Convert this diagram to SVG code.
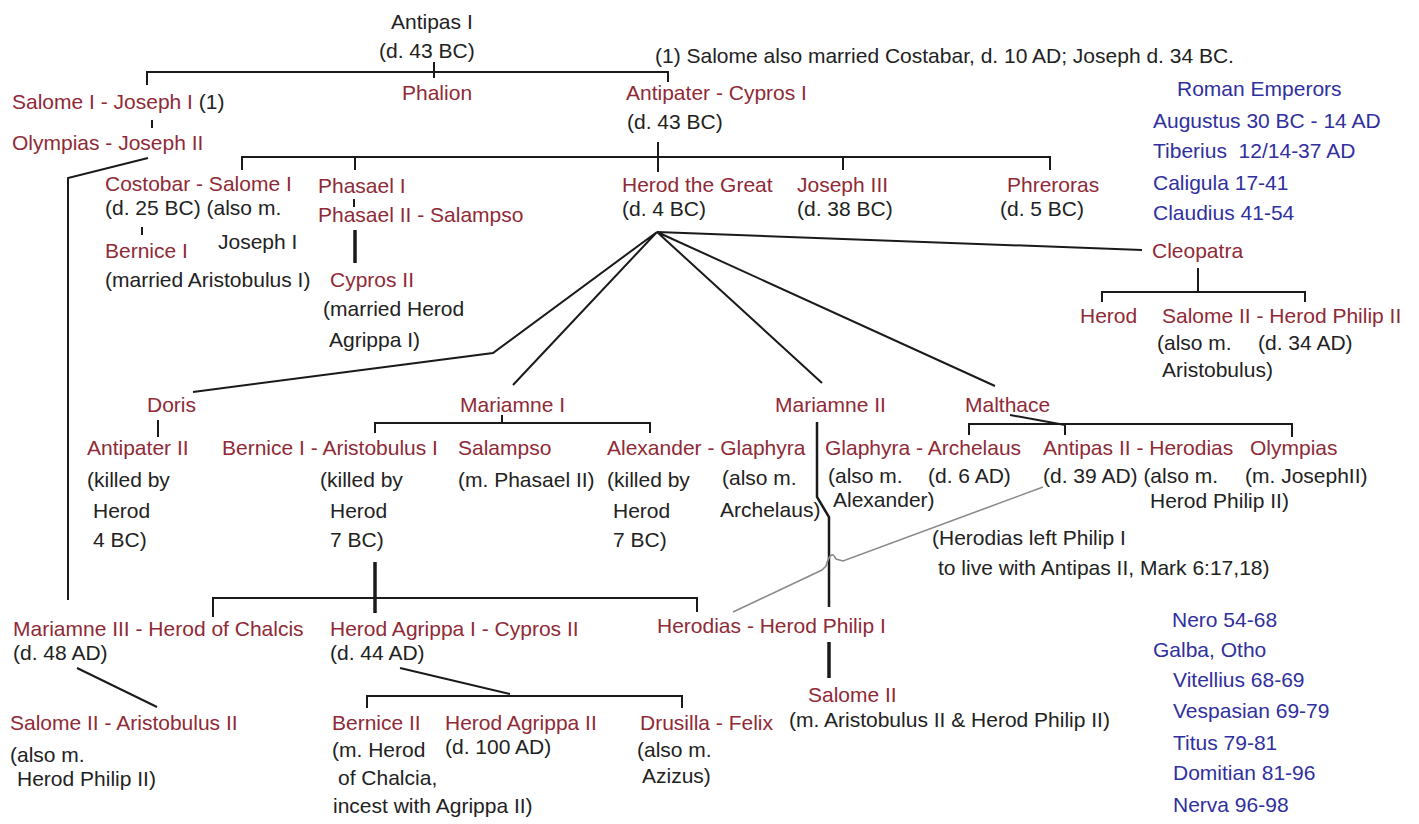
<svg xmlns="http://www.w3.org/2000/svg" width="1419" height="824" viewBox="0 0 1419 824">
<style>
text{font-family:"Liberation Sans",Arial,sans-serif;font-size:21px}
.r{fill:#8f2a36}.k{fill:#222}.b{fill:#30309e}
.ln{stroke:#1a1a1a;stroke-width:2;fill:none}
.th{stroke-width:3.5}
.gr{stroke:#8a8a8a;stroke-width:1.6;fill:none}
</style>
<rect width="1419" height="824" fill="#fff"/>
<g id="connectors">
<path class="ln" d="M147,85 V72 H668 V82 M434,62 V78"/>
<path class="ln" d="M152,120 V128"/>
<path class="ln" d="M148,158 L68,178 V600"/>
<path class="ln" d="M242,170 V157 H1050 V170 M355,157 V170 M658,142 V172 M843,157 V170"/>
<path class="ln" d="M142,227 V235"/>
<path class="ln" d="M354,199 V207"/>
<path class="ln th" d="M355,230 V263"/>
<path class="ln" d="M657,232 L1142,250 M657,232 L493,353 L193,392 M657,232 L513,385 M657,232 L822,383 M657,232 L995,386"/>
<path class="ln" d="M1198,268 V292 M1102,302 V292 H1305 V302"/>
<path class="ln" d="M158,420 V437"/>
<path class="ln" d="M375,433 V423 H650 V433 M502,415 V423"/>
<path class="ln" style="stroke-width:2.5" d="M817,422 V497 L829,517 V607"/>
<path class="ln" d="M1010,415 L1065,425 M969,435 V424 H1292 V437 M1065,424 V435"/>
<path class="gr" d="M1043,487 L843,561 L836,559 Q831,548 826,566 L822,570 L733,612"/>
<path class="ln" d="M213,617 V598 H697 V612"/>
<path class="ln th" d="M375,562 V613"/>
<path class="ln" d="M77,668 L157,707"/>
<path class="ln" d="M400,668 L510,694 M367,708 V696 H682 V708"/>
<path class="ln th" d="M829,642 V678"/>
</g>
<g id="antipas1"><text x="391" y="29" class="k">Antipas I</text><text x="379" y="58" class="k">(d. 43 BC)</text></g>
<g id="note1"><text x="655" y="63" class="k">(1) Salome also married Costabar, d. 10 AD; Joseph d. 34 BC.</text></g>
<g id="salome1"><text x="12" y="109"><tspan class="r">Salome I - Joseph I</tspan><tspan class="k"> (1)</tspan></text></g>
<g id="olympias-joseph2"><text x="12" y="150" class="r">Olympias - Joseph II</text></g>
<g id="phalion"><text x="402" y="100" class="r">Phalion</text></g>
<g id="antipater"><text x="626" y="100" class="r">Antipater - Cypros I</text><text x="627" y="129" class="k">(d. 43 BC)</text></g>
<g id="costobar"><text x="105" y="191" class="r">Costobar - Salome I</text><text x="105" y="215" class="k">(d. 25 BC) (also m.</text><text x="218" y="249" class="k">Joseph I</text></g>
<g id="bernice1a"><text x="105" y="258" class="r">Bernice I</text><text x="105" y="287" class="k">(married Aristobulus I)</text></g>
<g id="phasael"><text x="318" y="193" class="r">Phasael I</text><text x="318" y="222" class="r">Phasael II - Salampso</text></g>
<g id="cypros2"><text x="330" y="287" class="r">Cypros II</text><text x="323" y="316" class="k">(married Herod</text><text x="329" y="347" class="k">Agrippa I)</text></g>
<g id="herod-great"><text x="622" y="192" class="r">Herod the Great</text><text x="622" y="216" class="k">(d. 4 BC)</text></g>
<g id="joseph3"><text x="797" y="192" class="r">Joseph III</text><text x="797" y="216" class="k">(d. 38 BC)</text></g>
<g id="phreroras"><text x="1007" y="192" class="r">Phreroras</text><text x="1000" y="216" class="k">(d. 5 BC)</text></g>
<g id="emperors1">
<text x="1177" y="96" class="b">Roman Emperors</text>
<text x="1153" y="128" class="b">Augustus 30 BC - 14 AD</text>
<text x="1153" y="158" class="b" xml:space="preserve">Tiberius  12/14-37 AD</text>
<text x="1153" y="190" class="b">Caligula 17-41</text>
<text x="1153" y="220" class="b">Claudius 41-54</text>
</g>
<g id="cleopatra"><text x="1152" y="258" class="r">Cleopatra</text></g>
<g id="herod-c"><text x="1080" y="323" class="r">Herod</text></g>
<g id="salome2-philip2"><text x="1162" y="323" class="r">Salome II - Herod Philip II</text><text x="1157" y="350" class="k">(also m.</text><text x="1258" y="350" class="k">(d. 34 AD)</text><text x="1162" y="377" class="k">Aristobulus)</text></g>
<g id="doris"><text x="147" y="412" class="r">Doris</text></g>
<g id="antipater2"><text x="87" y="455" class="r">Antipater II</text><text x="87" y="487" class="k">(killed by</text><text x="93" y="518" class="k">Herod</text><text x="93" y="547" class="k">4 BC)</text></g>
<g id="mariamne1"><text x="460" y="412" class="r">Mariamne I</text></g>
<g id="aristobulus1"><text x="222" y="455" class="r">Bernice I - Aristobulus I</text><text x="320" y="487" class="k">(killed by</text><text x="330" y="518" class="k">Herod</text><text x="330" y="547" class="k">7 BC)</text></g>
<g id="salampso"><text x="458" y="455" class="r">Salampso</text><text x="458" y="487" class="k">(m. Phasael II)</text></g>
<g id="alexander"><text x="607" y="455" class="r">Alexander - Glaphyra</text><text x="607" y="487" class="k">(killed by</text><text x="613" y="518" class="k">Herod</text><text x="613" y="547" class="k">7 BC)</text><text x="722" y="485" class="k">(also m.</text><text x="720" y="517" class="k">Archelaus)</text></g>
<g id="mariamne2"><text x="775" y="412" class="r">Mariamne II</text></g>
<g id="malthace"><text x="965" y="412" class="r">Malthace</text></g>
<g id="archelaus"><text x="825" y="455" class="r">Glaphyra - Archelaus</text><text x="828" y="483" class="k">(also m.</text><text x="928" y="483" class="k">(d. 6 AD)</text><text x="833" y="507" class="k">Alexander)</text></g>
<g id="antipas2"><text x="1043" y="455" class="r">Antipas II - Herodias</text><text x="1043" y="483" class="k">(d. 39 AD) (also m.</text><text x="1150" y="508" class="k">Herod Philip II)</text></g>
<g id="olympias"><text x="1250" y="455" class="r">Olympias</text><text x="1245" y="483" class="k">(m. JosephII)</text></g>
<g id="note2"><text x="932" y="545" class="k">(Herodias left Philip I</text><text x="938" y="575" class="k">to live with Antipas II, Mark 6:17,18)</text></g>
<g id="mariamne3"><text x="13" y="636" class="r">Mariamne III - Herod of Chalcis</text><text x="13" y="660" class="k">(d. 48 AD)</text></g>
<g id="agrippa1"><text x="330" y="636" class="r">Herod Agrippa I - Cypros II</text><text x="330" y="660" class="k">(d. 44 AD)</text></g>
<g id="herodias-philip1"><text x="657" y="633" class="r">Herodias - Herod Philip I</text></g>
<g id="salome2-aristobulus2"><text x="10" y="730" class="r">Salome II - Aristobulus II</text><text x="10" y="762" class="k">(also m.</text><text x="17" y="786" class="k">Herod Philip II)</text></g>
<g id="bernice2"><text x="332" y="730" class="r">Bernice II</text><text x="332" y="757" class="k">(m. Herod</text><text x="338" y="785" class="k">of Chalcia,</text><text x="333" y="813" class="k">incest with Agrippa II)</text></g>
<g id="agrippa2"><text x="445" y="730" class="r">Herod Agrippa II</text><text x="445" y="754" class="k">(d. 100 AD)</text></g>
<g id="drusilla"><text x="640" y="730" class="r">Drusilla - Felix</text><text x="637" y="757" class="k">(also m.</text><text x="642" y="783" class="k">Azizus)</text></g>
<g id="salome2b"><text x="808" y="702" class="r">Salome II</text><text x="789" y="727" class="k">(m. Aristobulus II &amp; Herod Philip II)</text></g>
<g id="emperors2">
<text x="1172" y="627" class="b">Nero 54-68</text>
<text x="1153" y="657" class="b">Galba, Otho</text>
<text x="1173" y="687" class="b">Vitellius 68-69</text>
<text x="1173" y="718" class="b">Vespasian 69-79</text>
<text x="1173" y="750" class="b">Titus 79-81</text>
<text x="1173" y="780" class="b">Domitian 81-96</text>
<text x="1173" y="812" class="b">Nerva 96-98</text>
</g>
</svg>
